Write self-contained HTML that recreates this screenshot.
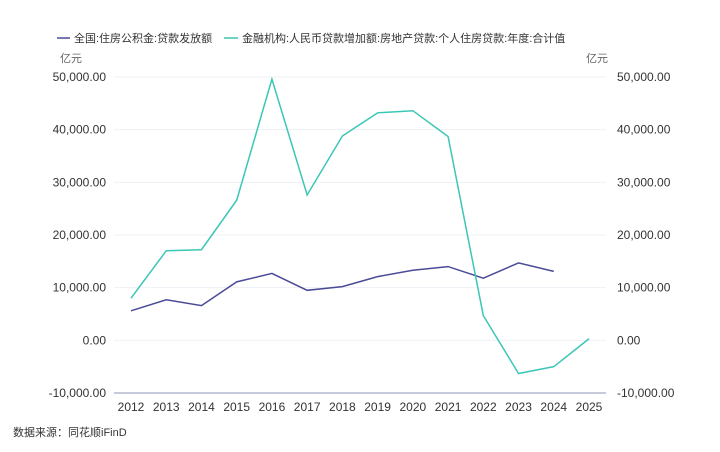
<!DOCTYPE html>
<html><head><meta charset="utf-8"><style>
body{margin:0;background:#fff;width:720px;height:452px;overflow:hidden;font-family:"Liberation Sans","Noto Sans CJK SC",sans-serif}
</style></head><body>
<svg id="c" width="720" height="452" style="position:absolute;left:0;top:0"></svg>
<script>
const years=["2012","2013","2014","2015","2016","2017","2018","2019","2020","2021","2022","2023","2024","2025"];
const fundLoans=[5600,7700,6600,11100,12700,9500,10200,12100,13300,14000,11800,14700,13100];
const bankLoans=[8000,17000,17200,26600,49600,27600,38800,43200,43600,38700,4700,-6300,-5000,300];
const yTicks=[-10000,0,10000,20000,30000,40000,50000];
const yTickLabels=["-10,000.00","0.00","10,000.00","20,000.00","30,000.00","40,000.00","50,000.00"];
const svg=document.getElementById('c');
const NS='http://www.w3.org/2000/svg';
const x0=131,x1=589,yTop=77,yBot=393,vMin=-10000,vMax=50000;
const X=i=>x0+(x1-x0)*i/(years.length-1);
const Y=v=>yBot-(v-vMin)/(vMax-vMin)*(yBot-yTop);
function mk(t,a,txt){const e=document.createElementNS(NS,t);for(const k in a)e.setAttribute(k,a[k]);if(txt!=null)e.textContent=txt;svg.appendChild(e);return e;}
yTicks.forEach((v,i)=>{
  if(v!==vMin){const g=mk('line',{x1:114,x2:606,y1:Y(v),y2:Y(v),stroke:'#eef0f6','stroke-width':1});
  
  }
  const l=mk('text',{x:106,y:Y(v)+4,'text-anchor':'end','font-size':12,fill:'#333'},yTickLabels[i]);
  
  
  const r=mk('text',{x:617,y:Y(v)+4,'font-size':12,fill:'#333'},yTickLabels[i]);
  
  
});
const ax=mk('line',{x1:114,x2:606,y1:yBot,y2:yBot,stroke:'#8f95b8','stroke-width':1});


years.forEach((y,i)=>{
  const t=mk('text',{x:X(i),y:411,'text-anchor':'middle','font-size':12,fill:'#333'},y);
  
  
});
function line(d,c,name){
  const p=mk('polyline',{points:d.map((v,i)=>X(i)+','+Y(v)).join(' '),fill:'none',stroke:c,'stroke-width':1.5});
  
  
}
line(fundLoans,'#4a4b96','fund-loans-line');
line(bankLoans,'#3cc6b6','bank-loans-line');
const u1=mk('text',{x:60,y:62,'font-size':11,fill:'#666'},'亿元');

const u2=mk('text',{x:586,y:62,'font-size':11,fill:'#666'},'亿元');

const l1=mk('line',{x1:57,x2:70,y1:38,y2:38,stroke:'#4a4b96','stroke-width':1.5});

const t1=mk('text',{x:74,y:42,'font-size':11,fill:'#333'},'全国:住房公积金:贷款发放额');

const l2=mk('line',{x1:224,x2:238,y1:38,y2:38,stroke:'#3cc6b6','stroke-width':1.5});

const t2=mk('text',{x:242,y:42,'font-size':11,fill:'#333'},'金融机构:人民币贷款增加额:房地产贷款:个人住房贷款:年度:合计值');

const s=mk('text',{x:13,y:436,'font-size':11,fill:'#333'},'数据来源：同花顺iFinD');

</script>
</body></html>
